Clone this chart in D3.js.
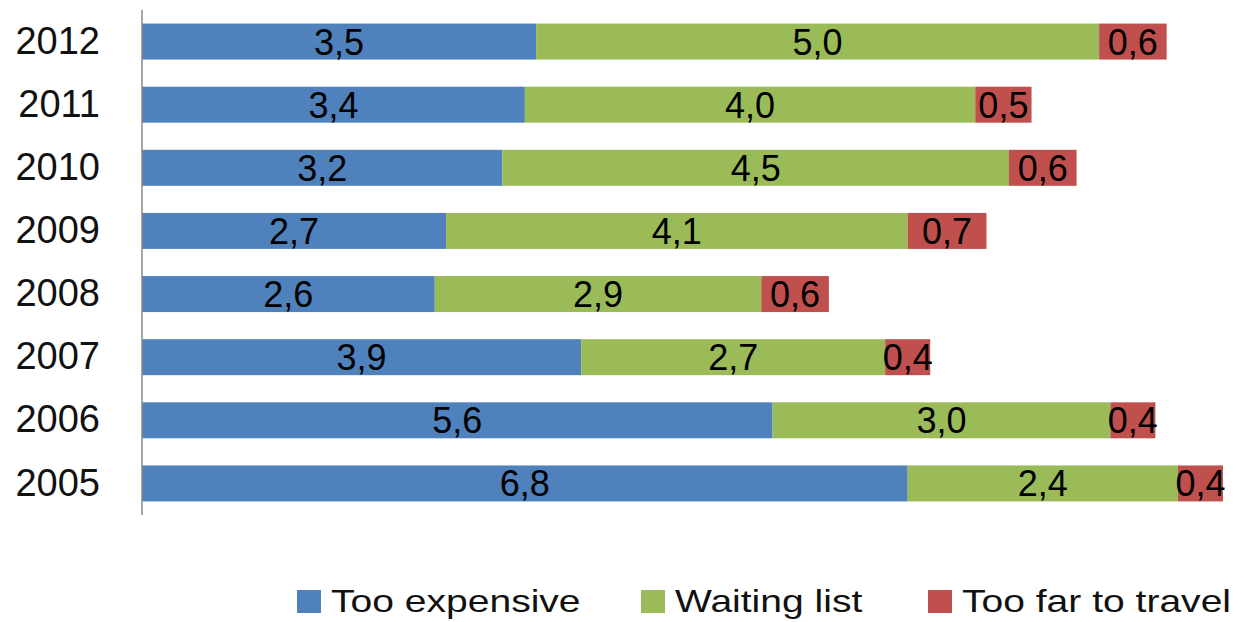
<!DOCTYPE html>
<html>
<head>
<meta charset="utf-8">
<script src="https://cdn.jsdelivr.net/npm/d3@7"></script>
<style>
  html, body { margin: 0; padding: 0; background: #fff; }
  svg { display: block; font-family: "Liberation Sans", Arial, sans-serif; }
</style>
</head>
<body>
<svg id="chart" width="1249" height="622"></svg>
<script>
// Reasons for unmet need, by year (stacked horizontal bars)
const years = ["2012", "2011", "2010", "2009", "2008", "2007", "2006", "2005"];
const seriesNames = ["Too expensive", "Waiting list", "Too far to travel"];
const tooExpensive = [3.5, 3.4, 3.2, 2.7, 2.6, 3.9, 5.6, 6.8];
const waitingList  = [5.0, 4.0, 4.5, 4.1, 2.9, 2.7, 3.0, 2.4];
const tooFar       = [0.6, 0.5, 0.6, 0.7, 0.6, 0.4, 0.4, 0.4];
const colors = ["#4F81BD", "#9BBB59", "#C0504D"];

const seriesValues = [tooExpensive, waitingList, tooFar];
const rows = years.map((y, i) => {
  const r = { year: y };
  seriesNames.forEach((s, k) => { r[s] = seriesValues[k][i]; });
  return r;
});

const svg = d3.select("#chart");

const x = d3.scaleLinear().domain([0, 10]).range([142, 1268]);
const y = d3.scaleBand().domain(years).range([10, 515])
  .paddingInner(0.43).paddingOuter(0.215);

const stacked = d3.stack().keys(seriesNames)(rows);

const fmt = v => d3.format(".1f")(v).replace(".", ",");

const layers = svg.append("g").selectAll("g")
  .data(stacked).join("g")
  .attr("fill", (d, i) => colors[i]);

layers.selectAll("rect")
  .data(d => d).join("rect")
  .attr("x", d => x(d[0]))
  .attr("y", d => y(d.data.year))
  .attr("width", d => x(d[1]) - x(d[0]))
  .attr("height", y.bandwidth());

// value labels centred on each segment
const labels = svg.append("g")
  .attr("font-size", 36)
  .attr("fill", "#000")
  .attr("text-anchor", "middle");

stacked.forEach(layer => {
  labels.selectAll(null)
    .data(layer).join("text")
    .attr("x", d => (x(d[0]) + x(d[1])) / 2)
    .attr("y", d => y(d.data.year) + y.bandwidth() / 2)
    .attr("dy", "0.36em")
    .text(d => fmt(d[1] - d[0]));
});

// category axis
const yAxis = svg.append("g")
  .attr("transform", `translate(${x(0)},0)`)
  .call(d3.axisLeft(y).tickSize(0).tickPadding(42));
yAxis.select(".domain").attr("stroke", "#888").attr("stroke-width", 1.5)
  .attr("d", "M0,10V515");
yAxis.selectAll("text")
  .attr("font-size", 38)
  .attr("font-family", "Liberation Sans, Arial, sans-serif")
  .attr("fill", "#111");

// legend along the bottom
const legendX = [297, 641, 928];
const legend = svg.append("g");
seriesNames.forEach((name, i) => {
  const g = legend.append("g").attr("transform", `translate(${legendX[i]},0)`);
  g.append("rect")
    .attr("x", 0).attr("y", 590)
    .attr("width", 24).attr("height", 23)
    .attr("fill", colors[i]);
  g.append("text")
    .attr("transform", "translate(34,612) scale(1.22,1)")
    .attr("font-size", 32)
    .attr("fill", "#111")
    .text(name);
});
</script>
</body>
</html>
